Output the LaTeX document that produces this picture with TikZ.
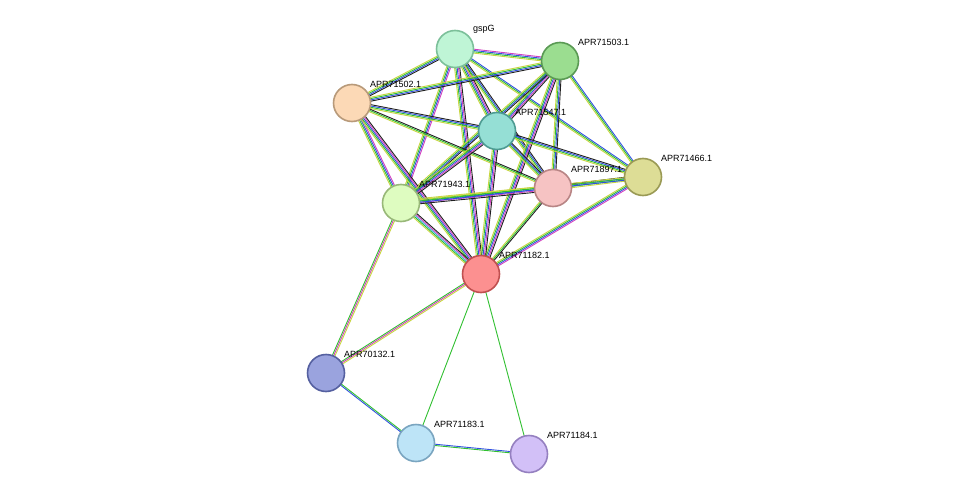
\documentclass[tikz,border=0pt]{standalone}
\usepackage{fontspec}
\setmainfont{Liberation Sans}
\usetikzlibrary{calc}
\definecolor{ecy}{HTML}{C8D640}
\definecolor{ecg}{HTML}{30C030}
\definecolor{ecb}{HTML}{3050E0}
\definecolor{ecm}{HTML}{D040C0}
\definecolor{eck}{HTML}{202020}
\definecolor{ecl}{HTML}{40B0E0}
\definecolor{f1}{HTML}{BFF5D6}\definecolor{b1}{HTML}{7CC09A}
\definecolor{f2}{HTML}{9BDD90}\definecolor{b2}{HTML}{5A9A54}
\definecolor{f3}{HTML}{FCD9B6}\definecolor{b3}{HTML}{B89A7A}
\definecolor{f4}{HTML}{95DFD5}\definecolor{b4}{HTML}{4E9B92}
\definecolor{f5}{HTML}{DDDD96}\definecolor{b5}{HTML}{9A9A55}
\definecolor{f6}{HTML}{F6C3C3}\definecolor{b6}{HTML}{B88585}
\definecolor{f7}{HTML}{DEFCC0}\definecolor{b7}{HTML}{98B878}
\definecolor{f8}{HTML}{FC9090}\definecolor{b8}{HTML}{C05050}
\definecolor{f9}{HTML}{9AA3DE}\definecolor{b9}{HTML}{5560A0}
\definecolor{f10}{HTML}{BDE4F7}\definecolor{b10}{HTML}{7AA5C0}
\definecolor{f11}{HTML}{D2C0F7}\definecolor{b11}{HTML}{9580C0}
\newcommand\sedge[4]{% from, to, n, colors
  \foreach \c [count=\i] in {#4} {
    \pgfmathsetmacro\off{(\i-(#3+1)/2)*1.3}
    \draw[draw=e\c,line width=0.9pt] ($(#1)!\off pt!90:(#2)$) -- ($(#2)!\off pt!-90:(#1)$);
  }}
\tikzset{prot/.style={circle,minimum size=37pt,inner sep=0pt,fill=f#1,draw=b#1,line width=1.6pt},
 lab/.style={font=\fontsize{9}{10}\selectfont,anchor=south west,inner sep=1pt}}
\begin{document}
\begin{tikzpicture}[x=1pt,y=-1pt]
\useasboundingbox (0,0) rectangle (976,500);
\fill[white] (0,0) rectangle (976,500);
\coordinate (g) at (455,49);
\coordinate (a3) at (560,61);
\coordinate (a2) at (352,103);
\coordinate (a47) at (497,131);
\coordinate (a66) at (643,177);
\coordinate (a97) at (553,188);
\coordinate (a43) at (401,203);
\coordinate (a82) at (481,274);
\coordinate (a32) at (326,373);
\coordinate (a83) at (416,443);
\coordinate (a84) at (529,454);
% edges
\sedge{g}{a3}{4}{cy,cg,cb,cm}
\sedge{g}{a2}{4}{cy,cg,cb,ck}
\sedge{g}{a47}{5}{cy,cg,cb,cm,ck}
\sedge{g}{a97}{4}{cy,cg,cb,ck}
\sedge{g}{a43}{4}{cy,cg,cb,cm}
\sedge{g}{a82}{5}{cy,cg,cb,cm,ck}
\sedge{g}{a66}{3}{cy,cg,cb}
\sedge{a3}{a2}{4}{cy,cg,cb,ck}
\sedge{a3}{a47}{5}{cy,cg,cb,cm,ck}
\sedge{a3}{a97}{4}{cy,cg,cb,ck}
\sedge{a3}{a43}{4}{cy,cg,cb,ck}
\sedge{a3}{a82}{5}{cy,cg,cb,cm,ck}
\sedge{a3}{a66}{3}{cy,cg,cb}
\sedge{a2}{a47}{4}{cy,cg,cb,ck}
\sedge{a2}{a97}{3}{cy,cg,ck}
\sedge{a2}{a43}{4}{cy,cg,cb,cm}
\sedge{a2}{a82}{5}{cy,cg,cb,cm,ck}
\sedge{a47}{a97}{4}{cy,cg,cb,ck}
\sedge{a47}{a43}{5}{cy,cg,cb,cm,ck}
\sedge{a47}{a82}{5}{cy,cg,cb,cm,ck}
\sedge{a47}{a66}{4}{cy,cg,cb,ck}
\sedge{a97}{a43}{5}{cy,cg,cb,cm,ck}
\sedge{a97}{a82}{3}{cy,cg,ck}
\sedge{a97}{a66}{4}{cy,cg,cb,ck}
\sedge{a66}{a43}{3}{cy,cg,cb}
\sedge{a66}{a82}{4}{cy,cg,cb,cm}
\sedge{a43}{a82}{5}{cy,cg,cl,cm,ck}
\sedge{a43}{a32}{3}{cg,cm,cy}
\sedge{a82}{a32}{3}{cg,cm,cy}
\sedge{a32}{a83}{2}{cb,cg}
\sedge{a83}{a84}{2}{cg,cb}
\draw[draw=ecg,line width=0.9pt] (a82) -- (a83);
\draw[draw=ecg,line width=0.9pt] (a82) -- (a84);
% nodes
\node[prot=1] (ng) at (g) {};
\node[prot=2] (n3) at (a3) {};
\node[prot=3] (n2) at (a2) {};
\node[prot=4] (n47) at (a47) {};
\node[prot=5] (n66) at (a66) {};
\node[prot=6] (n97) at (a97) {};
\node[prot=7] (n43) at (a43) {};
\node[prot=8] (n82) at (a82) {};
\node[prot=9] (n32) at (a32) {};
\node[prot=10] (n83) at (a83) {};
\node[prot=11] (n84) at (a84) {};
% labels
\node[lab] (lg) at (472,35) {gspG};
\node[lab] (l3) at (577,47) {APR71503.1};
\node[lab] (l2) at (369,89) {APR71502.1};
\node[lab] (l47) at (514,117) {APR71547.1};
\node[lab] (l66) at (660,163) {APR71466.1};
\node[lab] (l97) at (570,174) {APR71897.1};
\node[lab] (l43) at (418,189) {APR71943.1};
\node[lab] (l82) at (498,260) {APR71182.1};
\node[lab] (l32) at (343,359) {APR70132.1};
\node[lab] (l83) at (433,429) {APR71183.1};
\node[lab] (l84) at (546,440) {APR71184.1};
\end{tikzpicture}
\end{document}
